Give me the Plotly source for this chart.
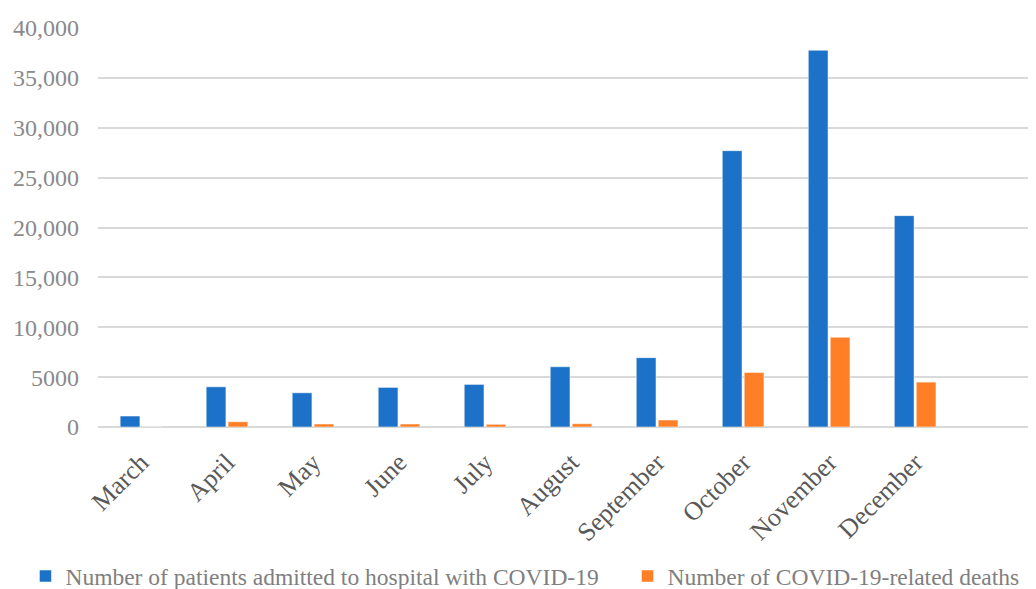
import plotly.graph_objects as go

months = ["March", "April", "May", "June", "July", "August", "September",
          "October", "November", "December"]
admitted = [1100, 4030, 3430, 3970, 4270, 6040, 6950, 27700, 37770, 21190]
deaths = [0, 530, 300, 300, 270, 330, 700, 5470, 9000, 4500]
series_names = ["Number of patients admitted to hospital with COVID-19",
                "Number of COVID-19-related deaths"]
y_ticks = [0, 5000, 10000, 15000, 20000, 25000, 30000, 35000, 40000]
y_tick_labels = ["0", "5000", "10,000", "15,000", "20,000", "25,000",
                 "30,000", "35,000", "40,000"]

FONT = "Liberation Serif"
fig = go.Figure()
fig.add_trace(go.Bar(x=months, y=admitted, name=series_names[0], legend="legend",
                     marker=dict(color="#1b72c8", line=dict(color="rgba(255,255,255,0.5)", width=1))))
fig.add_trace(go.Bar(x=months, y=deaths, name=series_names[1], legend="legend2",
                     marker=dict(color="#ff7f27", line=dict(color="rgba(255,255,255,0.5)", width=1))))

legend_common = dict(orientation="h", xanchor="left", y=-0.374, yanchor="middle",
                     font=dict(family=FONT, size=23.5, color="#7f7f7f"),
                     itemwidth=30, bgcolor="rgba(0,0,0,0)")

fig.update_layout(
    width=1028, height=581,
    margin=dict(l=90, r=3, t=20, b=162, autoexpand=False),
    paper_bgcolor="white", plot_bgcolor="white",
    barmode="group", bargap=0.49, bargroupgap=0.1,
    font=dict(family=FONT, color="#7f7f7f"),
    showlegend=True,
    legend=dict(x=-0.0776, **legend_common),
    legend2=dict(x=0.5663, **legend_common),
)
fig.update_xaxes(type="category", range=[-0.5, 10.37], tickangle=-45,
                 tickfont=dict(family=FONT, size=26, color="#595959"),
                 showgrid=False, showline=False, ticks="", automargin=False,
                 ticklabelstandoff=14)
fig.update_yaxes(range=[0, 40000], tickvals=y_ticks, ticktext=y_tick_labels,
                 tickfont=dict(family=FONT, size=24, color="#8a8a8a"),
                 showgrid=True, gridcolor="#d9d9d9", gridwidth=2,
                 zeroline=True, zerolinecolor="#d9d9d9", zerolinewidth=2,
                 showline=False, ticks="", ticklabelstandoff=18, automargin=False)

fig.write_html("out.html")
